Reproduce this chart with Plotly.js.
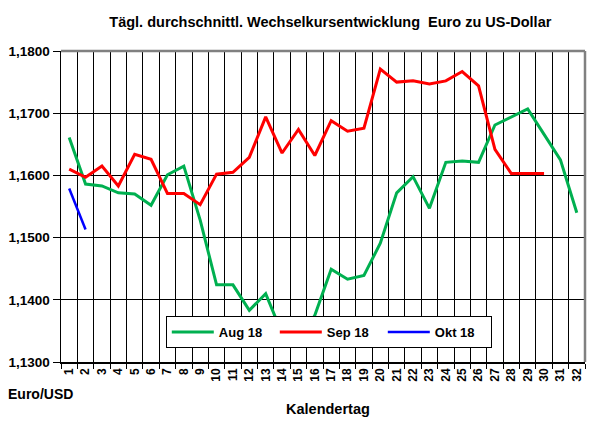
<!DOCTYPE html>
<html>
<head>
<meta charset="utf-8">
<script src="https://cdn.plot.ly/plotly-3.0.1.min.js"></script>
<style>html,body{margin:0;padding:0;background:#fff;}#chart{width:605px;height:422px;}</style>
</head>
<body>
<div id="chart"></div>
<script>
const days = ["1","2","3","4","5","6","7","8","9","10","11","12","13","14","15","16","17","18","19","20","21","22","23","24","25","26","27","28","29","30","31","32"];
const aug18 = [1.1661,1.1586,1.1583,1.1572,1.1570,1.1552,1.1601,1.1615,1.1528,1.1424,1.1424,1.1383,1.1410,1.1346,1.1330,1.1375,1.1449,1.1433,1.1439,1.1491,1.1572,1.1598,1.1547,1.1621,1.1623,1.1621,1.1681,1.1694,1.1707,1.1666,1.1625,1.1540];
const sep18 = [1.1610,1.1597,1.1615,1.1583,1.1634,1.1626,1.1571,1.1571,1.1553,1.1602,1.1605,1.1629,1.1694,1.1636,1.1674,1.1632,1.1688,1.1671,1.1676,1.1771,1.1750,1.1752,1.1747,1.1752,1.1767,1.1744,1.1642,1.1603,1.1603,1.1603];
const okt18 = [1.1579,1.1513];
const yTicks = [1.13,1.14,1.15,1.16,1.17,1.18];

const FONT = "Liberation Sans, Arial, sans-serif";
const traces = [
  {x: days.slice(0, aug18.length), y: aug18, name: "Aug 18", type: "scatter", mode: "lines", line: {color: "#00B050", width: 3}},
  {x: days.slice(0, sep18.length), y: sep18, name: "Sep 18", type: "scatter", mode: "lines", line: {color: "#FF0000", width: 3}},
  {x: days.slice(0, okt18.length), y: okt18, name: "Okt 18", type: "scatter", mode: "lines", line: {color: "#0000FF", width: 2.5}}
];
const layout = {
  width: 605, height: 422,
  margin: {l: 61, r: 20, t: 51, b: 60},
  paper_bgcolor: "#fff", plot_bgcolor: "#fff",
  separators: ",.",
  font: {family: FONT, color: "#000", size: 12},
  title: {text: "<b>Tägl. durchschnittl. Wechselkursentwicklung  Euro zu US-Dollar</b>", x: 0.546, xanchor: "center", y: 0.948, yanchor: "middle", font: {size: 14.5, family: FONT, color: "#000"}},
  xaxis: {
    type: "category", categoryorder: "array", categoryarray: days,
    range: [-0.5, days.length - 0.5],
    tickson: "boundaries", ticks: "outside", ticklen: 5, tickcolor: "#000",
    showgrid: true, gridcolor: "#000", gridwidth: 1,
    showline: true, linecolor: "#000", linewidth: 1.5,
    tickangle: -90, tickfont: {size: 12, family: FONT, color: "#000", weight: "bold"},
    zeroline: false, fixedrange: true
  },
  yaxis: {
    range: [1.13, 1.18], tickvals: yTicks, tickformat: ".4f",
    ticks: "outside", ticklen: 7, tickcolor: "#000",
    showgrid: true, gridcolor: "#000", gridwidth: 1,
    showline: true, linecolor: "#000", linewidth: 1.5,
    tickfont: {size: 13.5, family: FONT, color: "#000", weight: "bold"},
    zeroline: false, fixedrange: true
  },
  shapes: [
    {type: "line", xref: "paper", yref: "paper", x0: 0, x1: 1, y0: 1, y1: 1, line: {color: "#808080", width: 2.5}},
    {type: "line", xref: "paper", yref: "paper", x0: 1, x1: 1, y0: 0, y1: 1, line: {color: "#808080", width: 2.5}}
  ],
  legend: {
    orientation: "h", x: 0.200, xanchor: "left", y: 0.148, yanchor: "top",
    bgcolor: "#fff", bordercolor: "#000", borderwidth: 1,
    font: {size: 13, family: FONT, color: "#000", weight: "bold"},
    itemwidth: 42, entrywidth: 51, entrywidthmode: "pixels", tracegroupgap: 0
  },
  annotations: [
    {text: "<b>Euro/USD</b>", xref: "paper", yref: "paper", x: -0.105, y: -0.104, xanchor: "left", yanchor: "middle", showarrow: false, font: {size: 14, family: FONT, color: "#000"}},
    {text: "<b>Kalendertag</b>", xref: "paper", yref: "paper", x: 0.5086, y: -0.152, xanchor: "center", yanchor: "middle", showarrow: false, font: {size: 14.5, family: FONT, color: "#000"}}
  ],
  showlegend: true
};
Plotly.newPlot("chart", traces, layout, {displayModeBar: false, staticPlot: true});
</script>
</body>
</html>
